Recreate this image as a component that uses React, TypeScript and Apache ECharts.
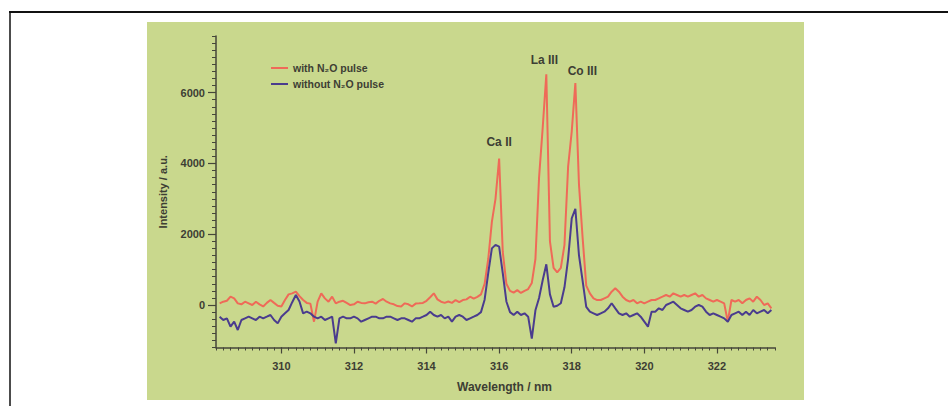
import React, { useEffect, useRef } from "react";
import * as echarts from "echarts";

// x grid of the spectrum (nm)
const wavelength = [
  308.3, 308.4, 308.5, 308.6, 308.7, 308.8, 308.9,
  309.0, 309.1, 309.2, 309.3, 309.4, 309.5, 309.6, 309.7, 309.8, 309.9,
  310.0, 310.1, 310.2, 310.3, 310.4, 310.5, 310.6, 310.7, 310.8, 310.9,
  311.0, 311.1, 311.2, 311.3, 311.4, 311.5, 311.6, 311.7, 311.8, 311.9,
  312.0, 312.1, 312.2, 312.3, 312.4, 312.5, 312.6, 312.7, 312.8, 312.9,
  313.0, 313.1, 313.2, 313.3, 313.4, 313.5, 313.6, 313.7, 313.8, 313.9,
  314.0, 314.1, 314.2, 314.3, 314.4, 314.5, 314.6, 314.7, 314.8, 314.9,
  315.0, 315.1, 315.2, 315.3, 315.4, 315.5, 315.6, 315.7, 315.8, 315.9,
  316.0, 316.1, 316.2, 316.3, 316.4, 316.5, 316.6, 316.7, 316.8, 316.9,
  317.0, 317.1, 317.2, 317.3, 317.4, 317.5, 317.6, 317.7, 317.8, 317.9,
  318.0, 318.1, 318.2, 318.3, 318.4, 318.5, 318.6, 318.7, 318.8, 318.9,
  319.0, 319.1, 319.2, 319.3, 319.4, 319.5, 319.6, 319.7, 319.8, 319.9,
  320.0, 320.1, 320.2, 320.3, 320.4, 320.5, 320.6, 320.7, 320.8, 320.9,
  321.0, 321.1, 321.2, 321.3, 321.4, 321.5, 321.6, 321.7, 321.8, 321.9,
  322.0, 322.1, 322.2, 322.3, 322.4, 322.5, 322.6, 322.7, 322.8, 322.9,
  323.0, 323.1, 323.2, 323.3, 323.4, 323.5,
];

// Intensity with N2O pulse (a.u.)
const withN2O = [
  47, 94, 120, 235, 188, 47, 20,
  94, 47, 0, 94, 20, -40, 60, 141, 60, -20,
  -40, 141, 300, 330, 377, 250, 141, 60, 40, -471,
  94, 330, 188, 94, 235, 47, 94, 120, 60, 0,
  20, 94, 60, 47, 80, 94, 40, 120, 170, 94,
  47, 20, -30, -40, 47, 20, -40, 40, 47, 60,
  120, 220, 330, 160, 94, 60, 100, 60, 141, 80,
  141, 160, 235, 180, 230, 300, 600, 1300, 2350, 3000,
  4140, 1500, 600, 400, 350, 420, 340, 400, 450, 620,
  1300, 3600, 5000, 6520, 1800, 1050, 920, 1050, 1700, 3900,
  4900, 6270, 3400, 1900, 550, 330, 190, 141, 141, 188,
  235, 377, 471, 377, 235, 141, 94, 141, 47, 94,
  47, 94, 141, 141, 188, 235, 283, 235, 330, 283,
  235, 283, 235, 283, 330, 235, 283, 188, 141, 94,
  141, 94, 47, -471, 141, 94, 141, 47, 141, 188,
  94, 235, 141, 0, 47, -94,
];

// Intensity without N2O pulse (a.u.)
const withoutN2O = [
  -330, -424, -377, -612, -471, -706, -424,
  -377, -330, -377, -424, -330, -377, -330, -282, -424, -518,
  -330, -235, -141, 80, 283, 100, -235, -188, -235, -330,
  -377, -330, -424, -377, -330, -1083, -377, -330, -377, -377,
  -330, -377, -471, -424, -377, -330, -330, -377, -377, -330,
  -330, -377, -424, -377, -377, -424, -471, -377, -377, -330,
  -282, -188, -282, -330, -282, -377, -330, -471, -330, -282,
  -330, -424, -377, -330, -282, -200, 150, 900, 1600, 1700,
  1650, 900, 100, -200, -282, -188, -282, -235, -330, -950,
  -150, 200, 700, 1150, 300, -50, -20, 50, 500, 1300,
  2450, 2720, 1400, 680, -50, -188, -235, -282, -235, -188,
  -94, 50, -94, -235, -282, -235, -330, -282, -235, -330,
  -471, -612, -188, -188, -94, -141, 0, 47, 94, 0,
  -94, -141, -188, -141, -47, 0, -47, -188, -282, -235,
  -282, -330, -377, -471, -282, -235, -188, -282, -188, -282,
  -141, -235, -188, -141, -235, -141,
];

const seriesNames = ["with N\u2082O pulse", "without N\u2082O pulse"];
const xTickLabels = [310, 312, 314, 316, 318, 320, 322];
const yTickLabels = [0, 2000, 4000, 6000];
const peakNames = ["Ca II", "La III", "Co III"];
const peakWavelengths = [316.0, 317.3, 318.1];

const FONT = "'Liberation Sans', Arial, Helvetica, sans-serif";
const AXIS_COLOR = "#45463a";
const TEXT_COLOR = "#3d3e34";
const RED = "#ef6a58";
const BLUE = "#4a3c8e";
const GREEN = "#c9d88d";

export default function App() {
  const ref = useRef<HTMLDivElement>(null);

  useEffect(() => {
    if (!ref.current) return;
    const chart = echarts.init(ref.current, undefined, { renderer: "svg" });

    const redData = wavelength.map((w, i) => [w, withN2O[i]]);
    const blueData = wavelength.map((w, i) => [w, withoutN2O[i]]);

    const peakLabelStyle = [
      { offset: [0, 0], distance: 10 },
      { offset: [-2, 0], distance: 8 },
      { offset: [7, 0], distance: 6 },
    ];
    const peakPoints = peakNames.map((name, k) => {
      const idx = wavelength.findIndex((w) => Math.abs(w - peakWavelengths[k]) < 1e-6);
      return {
        name,
        coord: [wavelength[idx], withN2O[idx]],
        label: {
          show: true,
          position: "top",
          formatter: name,
          offset: peakLabelStyle[k].offset,
          distance: peakLabelStyle[k].distance,
          fontSize: 12,
          fontWeight: "bold",
          color: TEXT_COLOR,
          fontFamily: FONT,
        },
      };
    });

    const isMajorX = (v: number) =>
      Math.abs(v - Math.round(v)) < 1e-6 && xTickLabels.includes(Math.round(v));
    const isMajorY = (v: number) => yTickLabels.some((t) => Math.abs(t - v) < 1e-6);

    const xMin = 308.2;
    const xMax = 323.6;
    const yMin = -1200;
    const yMax = 7600;

    chart.setOption({
      animation: false,
      backgroundColor: "#ffffff",
      textStyle: { fontFamily: FONT },
      graphic: {
        elements: [
          {
            type: "rect",
            z: -100,
            silent: true,
            shape: { x: 147, y: 22, width: 657, height: 378 },
            style: { fill: GREEN },
          },
          {
            type: "line",
            silent: true,
            shape: { x1: 9, y1: 12, x2: 948, y2: 12 },
            style: { stroke: "#111111", lineWidth: 2 },
          },
          {
            type: "line",
            silent: true,
            shape: { x1: 10, y1: 12, x2: 10, y2: 406 },
            style: { stroke: "#111111", lineWidth: 1.5 },
          },
        ],
      },
      grid: {
        left: 216,
        right: 173,
        top: 36,
        bottom: 58.5,
        containLabel: false,
        outerBoundsMode: "none",
      },
      legend: {
        orient: "vertical",
        left: 266,
        top: 55,
        itemWidth: 17,
        itemHeight: 2,
        itemGap: 0,
        icon: "rect",
        data: seriesNames,
        textStyle: {
          fontSize: 10.5,
          fontWeight: "bold",
          color: TEXT_COLOR,
          fontFamily: FONT,
          lineHeight: 16,
        },
      },
      xAxis: [
        {
          type: "value",
          min: xMin,
          max: xMax,
          interval: 0.2,
          position: "bottom",
          axisLine: { show: true, onZero: false, lineStyle: { color: AXIS_COLOR, width: 1.5 } },
          axisTick: { show: true, length: 3, lineStyle: { color: AXIS_COLOR, width: 1 } },
          axisLabel: { show: false },
          splitLine: { show: false },
        },
        {
          type: "value",
          min: xMin,
          max: xMax,
          interval: 0.2,
          position: "bottom",
          axisLine: { show: false, onZero: false },
          axisTick: {
            show: true,
            customValues: xTickLabels,
            length: 6,
            lineStyle: { color: AXIS_COLOR, width: 1.2 },
          },
          axisLabel: {
            show: true,
            customValues: xTickLabels,
            margin: 13,
            fontSize: 11,
            fontWeight: "bold",
            color: TEXT_COLOR,
            fontFamily: FONT,
            formatter: (v: number) => (isMajorX(v) ? String(Math.round(v)) : ""),
          },
          splitLine: { show: false },
          name: "Wavelength / nm",
          nameLocation: "middle",
          nameGap: 33,
          nameTextStyle: {
            fontSize: 12,
            fontWeight: "bold",
            color: TEXT_COLOR,
            fontFamily: FONT,
            padding: [0, 0, 0, 18],
          },
        },
      ],
      yAxis: [
        {
          type: "value",
          min: yMin,
          max: yMax,
          interval: 200,
          position: "left",
          axisLine: { show: true, onZero: false, lineStyle: { color: AXIS_COLOR, width: 1.5 } },
          axisTick: { show: true, length: 4, lineStyle: { color: AXIS_COLOR, width: 1 } },
          axisLabel: { show: false },
          splitLine: { show: false },
        },
        {
          type: "value",
          min: yMin,
          max: yMax,
          interval: 200,
          position: "left",
          axisLine: { show: false, onZero: false },
          axisTick: {
            show: true,
            customValues: yTickLabels,
            length: 8,
            lineStyle: { color: AXIS_COLOR, width: 1.2 },
          },
          axisLabel: {
            show: true,
            customValues: yTickLabels,
            margin: 11,
            fontSize: 11,
            fontWeight: "bold",
            color: TEXT_COLOR,
            fontFamily: FONT,
            formatter: (v: number) => (isMajorY(v) ? String(Math.round(v)) : ""),
          },
          splitLine: { show: false },
          name: "Intensity / a.u.",
          nameLocation: "middle",
          nameGap: 48,
          nameTextStyle: {
            fontSize: 11,
            fontWeight: "bold",
            color: TEXT_COLOR,
            fontFamily: FONT,
          },
        },
      ],
      series: [
        {
          name: seriesNames[0],
          type: "line",
          xAxisIndex: 0,
          yAxisIndex: 0,
          data: redData,
          showSymbol: false,
          symbol: "none",
          color: RED,
          lineStyle: { color: RED, width: 2 },
          z: 2,
          markPoint: {
            symbol: "circle",
            symbolSize: 0,
            silent: true,
            data: peakPoints,
          },
        },
        {
          name: seriesNames[1],
          type: "line",
          xAxisIndex: 0,
          yAxisIndex: 0,
          data: blueData,
          showSymbol: false,
          symbol: "none",
          color: BLUE,
          lineStyle: { color: BLUE, width: 2 },
          z: 3,
        },
      ],
    });

    return () => {
      chart.dispose();
    };
  }, []);

  return (
    <div
      ref={ref}
      style={{ position: "absolute", left: 0, top: 0, width: 948, height: 406 }}
    />
  );
}
